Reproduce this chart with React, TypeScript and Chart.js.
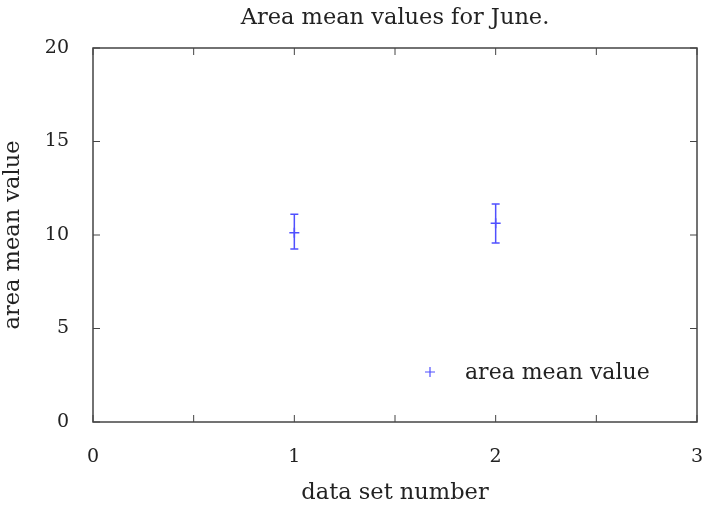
import React, { useEffect, useRef } from "react";
import { Chart, registerables } from "chart.js";

Chart.register(...registerables);

const titleText = "Area mean values for June.";
const xAxisTitle = "data set number";
const yAxisTitle = "area mean value";
const seriesLabel = "area mean value";

const dataSetNumbers = [1, 2];
const meanValues = [10.12, 10.63];
const lowValues = [9.25, 9.57];
const highValues = [11.11, 11.66];

const xMin = 0;
const xMax = 3;
const xStep = 0.5;
const yMin = 0;
const yMax = 20;
const yStep = 5;

const BLUE = "#5050ff";
const AXIS = "#444444";
const TEXT = "#222222";
const FONT = "'DejaVu Serif', serif";

const framePlugin = {
  id: "frameAndErrors",
  afterDatasetsDraw(chart: any) {
    const { ctx, chartArea } = chart;
    const xs = chart.scales.x;
    const ys = chart.scales.y;
    const { left, right, top, bottom } = chartArea;
    ctx.save();
    ctx.strokeStyle = AXIS;
    ctx.lineWidth = 1.5;
    ctx.strokeRect(left, top, right - left, bottom - top);
    ctx.lineWidth = 1;
    xs.ticks.forEach((t: any) => {
      const px = xs.getPixelForValue(t.value);
      const len = 7;
      ctx.beginPath();
      ctx.moveTo(px, bottom);
      ctx.lineTo(px, bottom - len);
      ctx.moveTo(px, top);
      ctx.lineTo(px, top + len);
      ctx.stroke();
    });
    ys.ticks.forEach((t: any) => {
      const py = ys.getPixelForValue(t.value);
      const len = 7;
      ctx.beginPath();
      ctx.moveTo(left, py);
      ctx.lineTo(left + len, py);
      ctx.moveTo(right, py);
      ctx.lineTo(right - len, py);
      ctx.stroke();
    });
    ctx.strokeStyle = BLUE;
    ctx.lineWidth = 1.5;
    dataSetNumbers.forEach((xv, i) => {
      const px = xs.getPixelForValue(xv);
      const pLo = ys.getPixelForValue(lowValues[i]);
      const pHi = ys.getPixelForValue(highValues[i]);
      ctx.beginPath();
      ctx.moveTo(px, pLo);
      ctx.lineTo(px, pHi);
      ctx.moveTo(px - 4, pLo);
      ctx.lineTo(px + 4, pLo);
      ctx.moveTo(px - 4, pHi);
      ctx.lineTo(px + 4, pHi);
      ctx.stroke();
    });
    const lx = right - 267;
    const ly = bottom - 50;
    ctx.lineWidth = 1.2;
    ctx.beginPath();
    ctx.moveTo(lx - 5, ly);
    ctx.lineTo(lx + 5, ly);
    ctx.moveTo(lx, ly - 5);
    ctx.lineTo(lx, ly + 5);
    ctx.stroke();
    ctx.fillStyle = TEXT;
    ctx.font = `22px ${FONT}`;
    ctx.textAlign = "left";
    ctx.textBaseline = "middle";
    ctx.fillText(seriesLabel, lx + 35, ly + 1);
    // title centred over the plot area
    ctx.font = `22.5px ${FONT}`;
    ctx.textAlign = "center";
    ctx.fillText(titleText, (left + right) / 2, 18);
    ctx.restore();
  },
};

export default function App() {
  const ref = useRef<HTMLCanvasElement>(null);
  useEffect(() => {
    if (!ref.current) return;
    const chart = new Chart(ref.current, {
      type: "scatter",
      data: {
        datasets: [
          {
            label: seriesLabel,
            data: dataSetNumbers.map((x, i) => ({ x, y: meanValues[i] })),
            pointStyle: "cross",
            pointRadius: 5,
            pointBorderWidth: 1.5,
            borderColor: BLUE,
            backgroundColor: BLUE,
            showLine: false,
          },
        ],
      },
      options: {
        animation: false,
        responsive: true,
        maintainAspectRatio: false,
        layout: { padding: { left: 0, right: 8, top: 48, bottom: 0 } },
        plugins: {
          legend: { display: false },
          tooltip: { enabled: false },
          title: { display: false },
        },
        scales: {
          x: {
            type: "linear",
            min: xMin,
            max: xMax,
            grid: { display: false, drawTicks: false },
            border: { display: false },
            ticks: {
              stepSize: xStep,
              padding: 24,
              color: TEXT,
              font: { family: FONT, size: 19 },
              callback: (v: any) => (Number.isInteger(v) ? String(v) : ""),
              maxRotation: 0,
              autoSkip: false,
            },
            title: {
              display: true,
              text: xAxisTitle,
              color: TEXT,
              font: { family: FONT, size: 22.5 },
              padding: { top: 0, bottom: 0 },
            },
            afterFit: (s: any) => {
              s.height = 85;
              s.paddingLeft = 0;
              s.paddingRight = 0;
            },
          },
          y: {
            type: "linear",
            min: yMin,
            max: yMax,
            grid: { display: false, drawTicks: false },
            border: { display: false },
            ticks: {
              stepSize: yStep,
              padding: 24,
              color: TEXT,
              font: { family: FONT, size: 19 },
            },
            title: {
              display: true,
              text: yAxisTitle,
              color: TEXT,
              font: { family: FONT, size: 22.5 },
              padding: { top: 0, bottom: 0 },
            },
            afterFit: (s: any) => {
              s.width = 93;
              s.paddingTop = 0;
              s.paddingBottom = 0;
            },
          },
        },
      },
      plugins: [framePlugin],
    });
    return () => chart.destroy();
  }, []);
  return (
    <div style={{ position: "fixed", left: 0, top: 0, width: 705, height: 507, background: "#fff" }}>
      <canvas ref={ref} />
    </div>
  );
}
